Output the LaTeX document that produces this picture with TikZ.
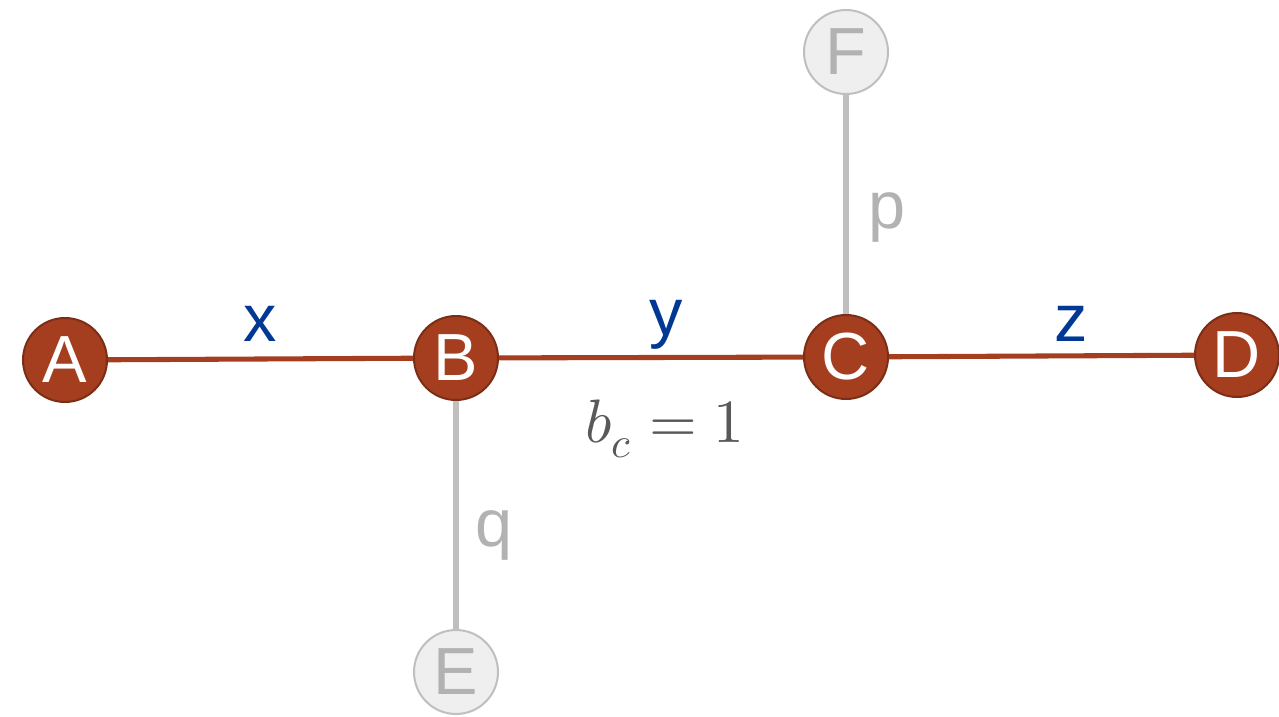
\documentclass[tikz,border=0pt]{standalone}
\usepackage{fontspec}
\setmainfont{Liberation Sans}
\usepackage{unicode-math}
\setmathfont{Latin Modern Math}
\definecolor{rust}{RGB}{165,62,30}
\definecolor{rustdark}{RGB}{122,46,22}
\definecolor{edgeblue}{RGB}{0,56,147}
\definecolor{lgray}{RGB}{191,191,191}
\definecolor{gfill}{RGB}{239,239,239}
\definecolor{gtext}{RGB}{178,178,178}
\definecolor{mathgray}{RGB}{89,89,89}
\tikzset{
  mainnode/.style={circle, fill=rust, draw=rustdark, line width=1.5pt, minimum size=63pt, inner sep=0pt, text=white, font=\fontsize{50}{50}\selectfont},
  sidenode/.style={circle, fill=gfill, draw=lgray, line width=1.5pt, minimum size=63pt, inner sep=0pt, text=gtext, font=\fontsize{50}{50}\selectfont},
  mainedge/.style={draw=rust, line width=3.8pt},
  sideedge/.style={draw=lgray, line width=3.8pt},
  bluelab/.style={text=edgeblue, font=\fontsize{50}{50}\selectfont},
  graylab/.style={text=gtext, font=\fontsize{50}{50}\selectfont},
}
\begin{document}
\begin{tikzpicture}[x=0.75pt, y=-0.75pt]
\useasboundingbox (0,0) rectangle (1279,717);
\node[mainnode] (A) at (65,360) {A};
\node[mainnode] (B) at (456,358) {B};
\node[mainnode] (C) at (846,357) {C};
\node[mainnode] (D) at (1237,355) {D};
\node[sidenode] (F) at (846,52) {F};
\node[sidenode] (E) at (456,672) {E};
\draw[mainedge] (A) -- (B);
\draw[mainedge] (B) -- (C);
\draw[mainedge] (C) -- (D);
\draw[sideedge] (C) -- (F);
\draw[sideedge] (B) -- (E);
\node[bluelab] (lx) at (260,324) {x};
\node[bluelab] (ly) at (666,325) {y};
\node[bluelab] (lz) at (1071,324) {z};
\node[graylab] (lp) at (887,217) {p};
\node[graylab] (lq) at (494,535) {q};
\node[text=mathgray, font=\fontsize{46}{46}\selectfont] (bc) at (665,429) {$b_c = 1$};
\end{tikzpicture}
\end{document}
